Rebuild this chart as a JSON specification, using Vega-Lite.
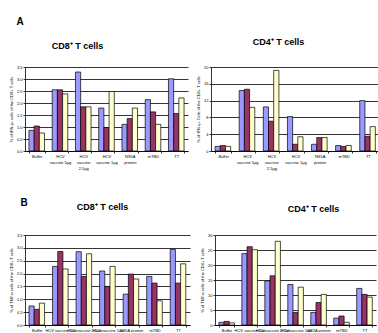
{
  "$schema": "https://vega.github.io/schema/vega-lite/v6.json",
  "background": "white",
  "padding": {"left": 9, "top": 17, "right": 0, "bottom": 0},
  "autosize": {"type": "pad"},
  "bounds": "flush",
  "spacing": 168,
  "datasets": {
    "ifn_cd8": [
      {"stimulus": "Buffer", "series": "1", "value": 0.86},
      {"stimulus": "Buffer", "series": "2", "value": 1.04},
      {"stimulus": "Buffer", "series": "3", "value": 0.75},
      {"stimulus": "HCV vaccine 5µg", "series": "1", "value": 2.55},
      {"stimulus": "HCV vaccine 5µg", "series": "2", "value": 2.55},
      {"stimulus": "HCV vaccine 5µg", "series": "3", "value": 2.38},
      {"stimulus": "HCV vaccine 2.5µg", "series": "1", "value": 3.29},
      {"stimulus": "HCV vaccine 2.5µg", "series": "2", "value": 1.84},
      {"stimulus": "HCV vaccine 2.5µg", "series": "3", "value": 1.84},
      {"stimulus": "HCV vaccine 1µg", "series": "1", "value": 1.79},
      {"stimulus": "HCV vaccine 1µg", "series": "2", "value": 0.98},
      {"stimulus": "HCV vaccine 1µg", "series": "3", "value": 2.48},
      {"stimulus": "NS5A protein", "series": "1", "value": 1.11},
      {"stimulus": "NS5A protein", "series": "2", "value": 1.35},
      {"stimulus": "NS5A protein", "series": "3", "value": 1.79},
      {"stimulus": "mTBD", "series": "1", "value": 2.14},
      {"stimulus": "mTBD", "series": "2", "value": 1.63},
      {"stimulus": "mTBD", "series": "3", "value": 1.11},
      {"stimulus": "TT", "series": "1", "value": 3.01},
      {"stimulus": "TT", "series": "2", "value": 1.56},
      {"stimulus": "TT", "series": "3", "value": 2.21}
    ],
    "ifn_cd4": [
      {"stimulus": "Buffer", "series": "1", "value": 1.1},
      {"stimulus": "Buffer", "series": "2", "value": 1.3},
      {"stimulus": "Buffer", "series": "3", "value": 1.1},
      {"stimulus": "HCV vaccine 5µg", "series": "1", "value": 14.4},
      {"stimulus": "HCV vaccine 5µg", "series": "2", "value": 14.7},
      {"stimulus": "HCV vaccine 5µg", "series": "3", "value": 10.4},
      {"stimulus": "HCV vaccine 2.5µg", "series": "1", "value": 10.5},
      {"stimulus": "HCV vaccine 2.5µg", "series": "2", "value": 7.1},
      {"stimulus": "HCV vaccine 2.5µg", "series": "3", "value": 19.2},
      {"stimulus": "HCV vaccine 1µg", "series": "1", "value": 8.2},
      {"stimulus": "HCV vaccine 1µg", "series": "2", "value": 1.6},
      {"stimulus": "HCV vaccine 1µg", "series": "3", "value": 3.4},
      {"stimulus": "NS5A protein", "series": "1", "value": 1.6},
      {"stimulus": "NS5A protein", "series": "2", "value": 3.2},
      {"stimulus": "NS5A protein", "series": "3", "value": 3.2},
      {"stimulus": "mTBD", "series": "1", "value": 1.3},
      {"stimulus": "mTBD", "series": "2", "value": 1.1},
      {"stimulus": "mTBD", "series": "3", "value": 1.3},
      {"stimulus": "TT", "series": "1", "value": 12.0},
      {"stimulus": "TT", "series": "2", "value": 3.5},
      {"stimulus": "TT", "series": "3", "value": 5.8}
    ],
    "tnf_cd8": [
      {"stimulus": "Buffer", "series": "1", "value": 0.74},
      {"stimulus": "Buffer", "series": "2", "value": 0.61},
      {"stimulus": "Buffer", "series": "3", "value": 0.85},
      {"stimulus": "HCV vaccine 5µg", "series": "1", "value": 2.28},
      {"stimulus": "HCV vaccine 5µg", "series": "2", "value": 2.86},
      {"stimulus": "HCV vaccine 5µg", "series": "3", "value": 2.18},
      {"stimulus": "HCV vaccine 2.5µg", "series": "1", "value": 2.85},
      {"stimulus": "HCV vaccine 2.5µg", "series": "2", "value": 1.89},
      {"stimulus": "HCV vaccine 2.5µg", "series": "3", "value": 2.77},
      {"stimulus": "HCV vaccine 1µg", "series": "1", "value": 2.1},
      {"stimulus": "HCV vaccine 1µg", "series": "2", "value": 1.5},
      {"stimulus": "HCV vaccine 1µg", "series": "3", "value": 2.28},
      {"stimulus": "NS5A protein", "series": "1", "value": 1.2},
      {"stimulus": "NS5A protein", "series": "2", "value": 1.98},
      {"stimulus": "NS5A protein", "series": "3", "value": 1.79},
      {"stimulus": "mTBD", "series": "1", "value": 1.89},
      {"stimulus": "mTBD", "series": "2", "value": 1.63},
      {"stimulus": "mTBD", "series": "3", "value": 0.94},
      {"stimulus": "TT", "series": "1", "value": 2.94},
      {"stimulus": "TT", "series": "2", "value": 1.63},
      {"stimulus": "TT", "series": "3", "value": 2.38}
    ],
    "tnf_cd4": [
      {"stimulus": "Buffer", "series": "1", "value": 0.9},
      {"stimulus": "Buffer", "series": "2", "value": 1.2},
      {"stimulus": "Buffer", "series": "3", "value": 0.7},
      {"stimulus": "HCV vaccine 5µg", "series": "1", "value": 23.8},
      {"stimulus": "HCV vaccine 5µg", "series": "2", "value": 26.1},
      {"stimulus": "HCV vaccine 5µg", "series": "3", "value": 25.1},
      {"stimulus": "HCV vaccine 2.5µg", "series": "1", "value": 14.7},
      {"stimulus": "HCV vaccine 2.5µg", "series": "2", "value": 16.4},
      {"stimulus": "HCV vaccine 2.5µg", "series": "3", "value": 27.9},
      {"stimulus": "HCV vaccine 1µg", "series": "1", "value": 13.5},
      {"stimulus": "HCV vaccine 1µg", "series": "2", "value": 4.2},
      {"stimulus": "HCV vaccine 1µg", "series": "3", "value": 12.6},
      {"stimulus": "NS5A protein", "series": "1", "value": 4.2},
      {"stimulus": "NS5A protein", "series": "2", "value": 7.5},
      {"stimulus": "NS5A protein", "series": "3", "value": 10.2},
      {"stimulus": "mTBD", "series": "1", "value": 2.3},
      {"stimulus": "mTBD", "series": "2", "value": 3.0},
      {"stimulus": "mTBD", "series": "3", "value": 0.9},
      {"stimulus": "TT", "series": "1", "value": 12.2},
      {"stimulus": "TT", "series": "2", "value": 10.2},
      {"stimulus": "TT", "series": "3", "value": 9.3}
    ]
  },
  "vconcat": [
    {
      "title": {"text": "A", "anchor": "start", "frame": "bounds", "fontSize": 10, "offset": 11, "dx": 7},
      "spacing": 23,
      "bounds": "flush",
      "hconcat": [
        {
          "data": {"name": "ifn_cd8"},
          "width": 163, "height": 84,
          "title": {"text": "CD8⁺ T cells", "frame": "group", "anchor": "middle", "dx": -29, "offset": 14},
          "mark": {"type": "bar", "stroke": "#000", "strokeWidth": 0.7},
          "encoding": {
            "x": {"field": "stimulus", "type": "nominal", "sort": ["Buffer", "HCV vaccine 5µg", "HCV vaccine 2.5µg", "HCV vaccine 1µg", "NS5A protein", "mTBD", "TT"], "scale": {"paddingInner": 0.33, "paddingOuter": 0.17}, "axis": {"title": null, "labelExpr": "datum.value == 'HCV vaccine 5µg' ? ['HCV', 'vaccine 5µg'] : datum.value == 'HCV vaccine 2.5µg' ? ['HCV', 'vaccine', '2.5µg'] : datum.value == 'HCV vaccine 1µg' ? ['HCV', 'vaccine 1µg'] : datum.value == 'NS5A protein' ? ['NS5A', 'protein'] : datum.value"}},
            "xOffset": {"field": "series", "type": "nominal", "sort": ["1", "2", "3"]},
            "y": {"field": "value", "type": "quantitative", "scale": {"domain": [0, 3.5], "nice": false}, "axis": {"values": [0, 0.5, 1, 1.5, 2, 2.5, 3, 3.5], "title": "% of IFN-γ+ cells of the CD8+ T cells"}},
            "color": {"field": "series", "type": "nominal", "scale": {"domain": ["1", "2", "3"], "range": ["#9999FF", "#993366", "#FFFFCC"]}, "legend": null}
          }
        },
        {
          "data": {"name": "ifn_cd4"},
          "width": 169, "height": 84,
          "title": {"text": "CD4⁺ T cells", "frame": "group", "anchor": "middle", "dx": -17, "offset": 18},
          "mark": {"type": "bar", "stroke": "#000", "strokeWidth": 0.7},
          "encoding": {
            "x": {"field": "stimulus", "type": "nominal", "sort": ["Buffer", "HCV vaccine 5µg", "HCV vaccine 2.5µg", "HCV vaccine 1µg", "NS5A protein", "mTBD", "TT"], "scale": {"paddingInner": 0.33, "paddingOuter": 0.17}, "axis": {"title": null, "labelExpr": "datum.value == 'HCV vaccine 5µg' ? ['HCV', 'vaccine 5µg'] : datum.value == 'HCV vaccine 2.5µg' ? ['HCV', 'vaccine', '2.5µg'] : datum.value == 'HCV vaccine 1µg' ? ['HCV', 'vaccine 1µg'] : datum.value == 'NS5A protein' ? ['NS5A', 'protein'] : datum.value"}},
            "xOffset": {"field": "series", "type": "nominal", "sort": ["1", "2", "3"]},
            "y": {"field": "value", "type": "quantitative", "scale": {"domain": [0, 20], "nice": false}, "axis": {"values": [0, 4, 8, 12, 16, 20], "title": "% of IFN-γ+ Cells of the CD4+ T cells"}},
            "color": {"field": "series", "type": "nominal", "scale": {"domain": ["1", "2", "3"], "range": ["#9999FF", "#993366", "#FFFFCC"]}, "legend": null}
          }
        }
      ]
    },
    {
      "title": {"text": "B", "anchor": "start", "frame": "bounds", "fontSize": 10, "offset": -5, "dx": 11},
      "spacing": 25,
      "bounds": "flush",
      "hconcat": [
        {
          "data": {"name": "tnf_cd8"},
          "width": 165, "height": 90,
          "title": {"text": "CD8⁺ T cells", "frame": "group", "anchor": "middle", "dx": -5, "offset": 21},
          "mark": {"type": "bar", "stroke": "#000", "strokeWidth": 0.7},
          "encoding": {
            "x": {"field": "stimulus", "type": "nominal", "sort": ["Buffer", "HCV vaccine 5µg", "HCV vaccine 2.5µg", "HCV vaccine 1µg", "NS5A protein", "mTBD", "TT"], "scale": {"paddingInner": 0.33, "paddingOuter": 0.17}, "axis": {"title": null}},
            "xOffset": {"field": "series", "type": "nominal", "sort": ["1", "2", "3"]},
            "y": {"field": "value", "type": "quantitative", "scale": {"domain": [0, 3.5], "nice": false}, "axis": {"values": [0, 0.5, 1, 1.5, 2, 2.5, 3, 3.5], "title": "% of TNF-α cells of the CD8+ T cells"}},
            "color": {"field": "series", "type": "nominal", "scale": {"domain": ["1", "2", "3"], "range": ["#9999FF", "#993366", "#FFFFCC"]}, "legend": null}
          }
        },
        {
          "data": {"name": "tnf_cd4"},
          "width": 161, "height": 90,
          "title": {"text": "CD4⁺ T cells", "frame": "group", "anchor": "middle", "dx": 18, "offset": 19},
          "mark": {"type": "bar", "stroke": "#000", "strokeWidth": 0.7},
          "encoding": {
            "x": {"field": "stimulus", "type": "nominal", "sort": ["Buffer", "HCV vaccine 5µg", "HCV vaccine 2.5µg", "HCV vaccine 1µg", "NS5A protein", "mTBD", "TT"], "scale": {"paddingInner": 0.33, "paddingOuter": 0.17}, "axis": {"title": null}},
            "xOffset": {"field": "series", "type": "nominal", "sort": ["1", "2", "3"]},
            "y": {"field": "value", "type": "quantitative", "scale": {"domain": [0, 30], "nice": false}, "axis": {"values": [0, 5, 10, 15, 20, 25, 30], "title": "% of TNF-α cells of the CD4+ T cells"}},
            "color": {"field": "series", "type": "nominal", "scale": {"domain": ["1", "2", "3"], "range": ["#9999FF", "#993366", "#FFFFCC"]}, "legend": null}
          }
        }
      ]
    }
  ],
  "config": {
    "font": "Liberation Sans",
    "view": {"stroke": null},
    "axis": {"labelFontSize": 4, "titleFontSize": 4, "titleFontWeight": "normal", "labelColor": "#000", "titleColor": "#000", "domainColor": "#000", "tickColor": "#000", "gridColor": "#000", "gridWidth": 0.8, "tickSize": 2, "labelPadding": 1, "titlePadding": 3, "domainWidth": 0.8, "tickWidth": 0.8},
    "axisX": {"grid": false, "tickBand": "extent", "labelAngle": 0},
    "title": {"fontSize": 9, "fontWeight": "bold", "color": "#000", "font": "Liberation Sans"}
  }
}
